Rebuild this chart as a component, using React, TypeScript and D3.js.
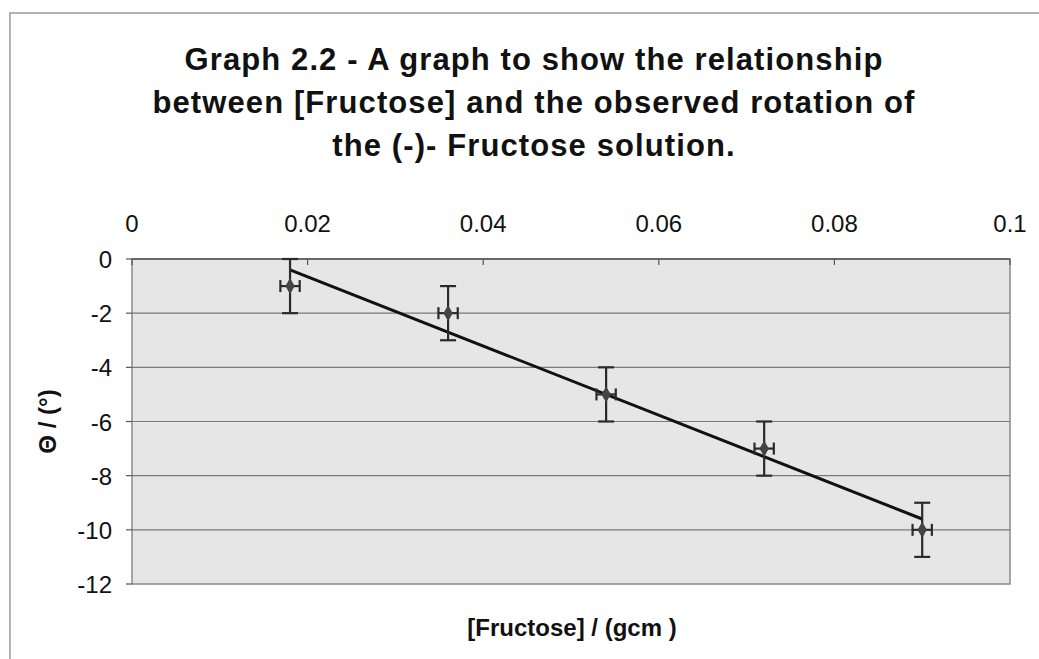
import React, { useEffect, useRef } from 'react';
import * as d3 from 'd3';

// readings from the graph
const concentration = [0.018, 0.036, 0.054, 0.072, 0.09];
const rotation = [-1, -2, -5, -7, -10];
const yError = 1;
const xError = 0.0011;

const xTicks = [0, 0.02, 0.04, 0.06, 0.08, 0.1];
const yTicks = [0, -2, -4, -6, -8, -10, -12];

const titleLines = [
    'Graph 2.2 - A graph to show the relationship',
    'between [Fructose] and the observed rotation of',
    'the (-)- Fructose solution.',
];

const App: React.FC = () => {
    const svgRef = useRef<SVGSVGElement | null>(null);

    useEffect(() => {
        if (!svgRef.current) return;
        const svg = d3.select(svgRef.current);
        svg.selectAll('*').remove();

        const font = '"Liberation Sans", Arial, sans-serif';
        const left = 132, right = 1010, top = 259, bottom = 584;

        const x = d3.scaleLinear().domain([0, 0.1]).range([left, right]);
        const y = d3.scaleLinear().domain([-12, 0]).range([bottom, top]);

        // outer frame
        svg.append('rect')
            .attr('x', 10).attr('y', 13)
            .attr('width', 1040).attr('height', 660)
            .attr('fill', 'white')
            .attr('stroke', '#9a9a9a')
            .attr('stroke-width', 1.5);

        // title
        svg.append('g')
            .selectAll('text')
            .data(titleLines)
            .enter()
            .append('text')
            .attr('x', 534)
            .attr('y', (d, i) => 70 + i * 43)
            .attr('text-anchor', 'middle')
            .attr('font-family', font)
            .attr('font-weight', 'bold')
            .attr('font-size', 31)
            .attr('letter-spacing', 1.1)
            .attr('fill', '#111')
            .text((d) => d);

        // plot area
        svg.append('rect')
            .attr('x', left).attr('y', top)
            .attr('width', right - left).attr('height', bottom - top)
            .attr('fill', '#e6e6e6')
            .attr('stroke', '#8a8a8a')
            .attr('stroke-width', 1.5);

        // gridlines
        svg.append('g')
            .selectAll('line')
            .data(yTicks.slice(1, -1))
            .enter()
            .append('line')
            .attr('x1', left).attr('x2', right)
            .attr('y1', (d) => y(d)).attr('y2', (d) => y(d))
            .attr('stroke', '#7a7a7a')
            .attr('stroke-width', 1.2);

        // x axis along y = 0
        svg.append('line')
            .attr('x1', left).attr('x2', right)
            .attr('y1', y(0)).attr('y2', y(0))
            .attr('stroke', '#555').attr('stroke-width', 1.5);
        svg.append('g')
            .selectAll('line')
            .data(xTicks)
            .enter()
            .append('line')
            .attr('x1', (d) => x(d)).attr('x2', (d) => x(d))
            .attr('y1', y(0)).attr('y2', y(0) + 6)
            .attr('stroke', '#555').attr('stroke-width', 1.2);
        svg.append('g')
            .selectAll('text')
            .data(xTicks)
            .enter()
            .append('text')
            .attr('x', (d) => x(d))
            .attr('y', 232)
            .attr('text-anchor', 'middle')
            .attr('font-family', font)
            .attr('font-size', 24)
            .attr('fill', '#111')
            .text((d) => d3.format('~g')(d));

        // y axis
        svg.append('g')
            .selectAll('line')
            .data(yTicks)
            .enter()
            .append('line')
            .attr('x1', left - 6).attr('x2', left)
            .attr('y1', (d) => y(d)).attr('y2', (d) => y(d))
            .attr('stroke', '#555').attr('stroke-width', 1.2);
        svg.append('g')
            .selectAll('text')
            .data(yTicks)
            .enter()
            .append('text')
            .attr('x', 112)
            .attr('y', (d) => y(d) + 9)
            .attr('text-anchor', 'end')
            .attr('font-family', font)
            .attr('font-size', 24)
            .attr('fill', '#111')
            .text((d) => d);

        // axis titles
        svg.append('text')
            .attr('transform', `translate(56,${(top + bottom) / 2}) rotate(-90)`)
            .attr('text-anchor', 'middle')
            .attr('font-family', font)
            .attr('font-weight', 'bold')
            .attr('font-size', 24)
            .attr('fill', '#111')
            .text('Θ / (°)');
        svg.append('text')
            .attr('x', 572).attr('y', 636)
            .attr('text-anchor', 'middle')
            .attr('font-family', font)
            .attr('font-weight', 'bold')
            .attr('font-size', 24)
            .attr('fill', '#111')
            .text('[Fructose] / (gcm )');

        // least squares trend line
        const mx = d3.mean(concentration) as number;
        const my = d3.mean(rotation) as number;
        const sxy = d3.sum(concentration, (c, i) => (c - mx) * (rotation[i] - my));
        const sxx = d3.sum(concentration, (c) => (c - mx) ** 2);
        const slope = sxy / sxx;
        const x0 = d3.min(concentration) as number;
        const x1 = d3.max(concentration) as number;
        svg.append('line')
            .attr('x1', x(x0)).attr('y1', y(my + slope * (x0 - mx)))
            .attr('x2', x(x1)).attr('y2', y(my + slope * (x1 - mx)))
            .attr('stroke', '#111').attr('stroke-width', 3);

        // error bars and markers
        const pts = concentration.map((c, i) => ({ c, r: rotation[i] }));
        const g = svg.append('g').attr('stroke', '#2a2a2a').attr('stroke-width', 2.2);
        pts.forEach((p) => {
            const px = x(p.c), py = y(p.r);
            const yt = y(p.r + yError), yb = y(p.r - yError);
            const xl = x(p.c - xError), xr = x(p.c + xError);
            g.append('line').attr('x1', px).attr('x2', px).attr('y1', yt).attr('y2', yb);
            g.append('line').attr('x1', px - 8).attr('x2', px + 8).attr('y1', yt).attr('y2', yt);
            g.append('line').attr('x1', px - 8).attr('x2', px + 8).attr('y1', yb).attr('y2', yb);
            g.append('line').attr('x1', xl).attr('x2', xr).attr('y1', py).attr('y2', py);
            g.append('line').attr('x1', xl).attr('x2', xl).attr('y1', py - 6).attr('y2', py + 6);
            g.append('line').attr('x1', xr).attr('x2', xr).attr('y1', py - 6).attr('y2', py + 6);
        });
        svg.append('g')
            .selectAll('path')
            .data(pts)
            .enter()
            .append('path')
            .attr('d', d3.symbol(d3.symbolDiamond, 60)() as string)
            .attr('transform', (d) => `translate(${x(d.c)},${y(d.r)})`)
            .attr('fill', '#444')
            .attr('stroke', '#444');
    }, []);

    return <svg ref={svgRef} width={1039} height={659} style={{ display: 'block', position: 'absolute', left: 0, top: 0 }}></svg>;
};

export default App;
